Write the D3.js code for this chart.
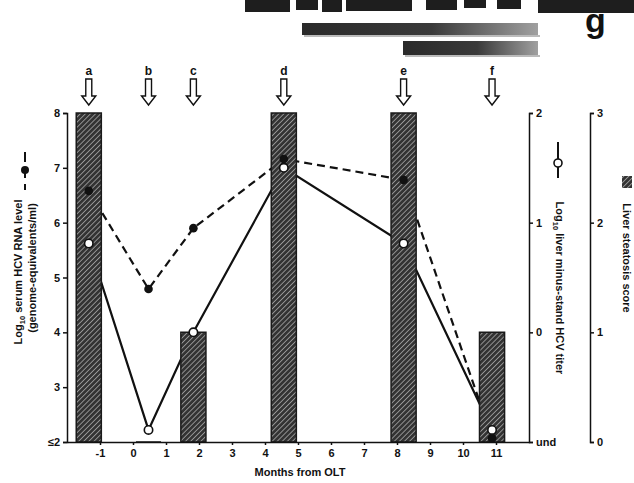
<!DOCTYPE html>
<html>
  <head>
    <script src="https://d3js.org/d3.v7.min.js"></script>
    <style>
      body { margin: 0; background: #fff; }
      text { font-family: "Liberation Sans", Arial, sans-serif; font-weight: bold; fill: #111; }
    </style>
  </head>
  <body>
    <svg id="chart" width="634" height="483"></svg>
    <script>
      // biopsy samples (arrows a-f) and their values
      const samples = ["a", "b", "c", "d", "e", "f"];
      const months = [-1.34, 0.47, 1.83, 4.57, 8.2, 10.88];
      const serumRNA = [6.58, 4.79, 5.9, 7.16, 6.78, 2.07];     // log10 genome-equivalents/ml
      const liverTiter = [0.81, -0.89, 0.0, 1.5, 0.81, -0.89];  // log10 minus-strand titer (-1 = und)
      const steatosis = [3, 0, 1, 3, 3, 1];                     // steatosis score
      const monthTicks = [-1, 0, 1, 2, 3, 4, 5, 6, 7, 8, 9, 10, 11];
      const rnaTicks = [2, 3, 4, 5, 6, 7, 8];
      const titerTicks = [-1, 0, 1, 2];
      const scoreTicks = [0, 1, 2, 3];

      const svg = d3.select("#chart");

      const x = d3.scaleLinear().domain([-2, 12]).range([67, 529]);
      const yL = d3.scaleLinear().domain([2, 8]).range([442, 113]);
      const yR = d3.scaleLinear().domain([-1, 2]).range([442, 113]);
      const yS = d3.scaleLinear().domain([0, 3]).range([442, 113]);

      // hatch pattern for bars
      const defs = svg.append("defs");
      const pat = defs.append("pattern")
        .attr("id", "hatch")
        .attr("patternUnits", "userSpaceOnUse")
        .attr("width", 3.6).attr("height", 3.6)
        .attr("patternTransform", "rotate(45)");
      pat.append("rect").attr("width", 3.6).attr("height", 3.6).attr("fill", "#333");
      pat.append("line").attr("x1", 0).attr("y1", 0).attr("x2", 0).attr("y2", 3.6)
        .attr("stroke", "#ececec").attr("stroke-width", 1);

      const grad = defs.append("linearGradient").attr("id", "banner");
      grad.append("stop").attr("offset", "0%").attr("stop-color", "#2a2a2a");
      grad.append("stop").attr("offset", "55%").attr("stop-color", "#3a3a3a");
      grad.append("stop").attr("offset", "100%").attr("stop-color", "#a0a0a0");

      // cropped pieces from the panel above
      const smudge = [[245, 290, 12], [296, 318, 10], [322, 342, 12], [346, 412, 11],
                      [426, 457, 10], [464, 486, 8], [497, 521, 9], [538, 634, 13]];
      svg.append("g").selectAll("rect").data(smudge).join("rect")
        .attr("x", d => d[0]).attr("y", 0)
        .attr("width", d => d[1] - d[0]).attr("height", d => d[2])
        .attr("fill", "#1e1e1e");

      svg.append("rect").attr("x", 304).attr("y", 35).attr("width", 236).attr("height", 2).attr("fill", "#bbb");
      svg.append("rect").attr("x", 302).attr("y", 23).attr("width", 236).attr("height", 12).attr("fill", "url(#banner)");
      svg.append("rect").attr("x", 405).attr("y", 55).attr("width", 135).attr("height", 2).attr("fill", "#bbb");
      svg.append("rect").attr("x", 403).attr("y", 41).attr("width", 135).attr("height", 14).attr("fill", "url(#banner)");

      svg.append("text").attr("x", 585).attr("y", 32)
        .style("font-size", "34px").text("g");

      // lines (drawn under the bars)
      const lineRNA = d3.line().x((d, i) => x(months[i])).y(d => yL(d));
      const lineTiter = d3.line().x((d, i) => x(months[i])).y(d => yR(d));

      svg.append("path").datum(serumRNA)
        .attr("d", lineRNA).attr("fill", "none")
        .attr("stroke", "#111").attr("stroke-width", 2.2)
        .attr("stroke-dasharray", "8,5");
      svg.append("path").datum(liverTiter)
        .attr("d", lineTiter).attr("fill", "none")
        .attr("stroke", "#111").attr("stroke-width", 2.2);

      // steatosis bars
      const halfW = 0.38;
      svg.append("g").selectAll("path").data(steatosis).join("path")
        .attr("d", (d, i) => {
          const x0 = x(months[i] - halfW), x1 = x(months[i] + halfW);
          return `M${x0},${yS(0)}H${x1}V${yS(d)}H${x0}Z`;
        })
        .attr("fill", "url(#hatch)")
        .attr("stroke", "#1a1a1a").attr("stroke-width", 1.5);

      // points
      svg.append("g").selectAll("circle").data(serumRNA).join("circle")
        .attr("cx", (d, i) => x(months[i])).attr("cy", d => yL(d))
        .attr("r", 4.3).attr("fill", "#111");
      svg.append("g").selectAll("circle").data(liverTiter).join("circle")
        .attr("cx", (d, i) => x(months[i])).attr("cy", d => yR(d))
        .attr("r", 4.2).attr("fill", "#fff")
        .attr("stroke", "#111").attr("stroke-width", 1.6);

      // axes
      function styleAxis(g) {
        g.selectAll("path, line").attr("stroke", "#111").attr("stroke-width", 1.5);
        g.selectAll("text").style("font-size", "11px").style("font-family", "Liberation Sans, Arial, sans-serif")
          .style("font-weight", "bold").attr("fill", "#111");
      }

      svg.append("g").attr("transform", `translate(0,${yL(2)})`)
        .call(d3.axisBottom(x).tickValues(monthTicks).tickSize(3).tickSizeOuter(0).tickPadding(4)
          .tickFormat(d => String(d)))
        .call(styleAxis);

      svg.append("g").attr("transform", `translate(${x(-2)},0)`)
        .call(d3.axisLeft(yL).tickValues(rnaTicks).tickSize(4).tickSizeOuter(4).tickPadding(3)
          .tickFormat(d => d === 2 ? "≤2" : String(d)))
        .call(styleAxis);

      svg.append("g").attr("transform", `translate(${x(12)},0)`)
        .call(d3.axisRight(yR).tickValues(titerTicks).tickSize(4).tickSizeOuter(4).tickPadding(3)
          .tickFormat(d => d === -1 ? "und" : String(d)))
        .call(styleAxis);

      svg.append("g").attr("transform", "translate(590,0)")
        .call(d3.axisRight(yS).tickValues(scoreTicks).tickSize(4).tickSizeOuter(4).tickPadding(3)
          .tickFormat(d => String(d)))
        .call(styleAxis);

      // sample arrows
      const arrows = svg.append("g").selectAll("g").data(samples).join("g")
        .attr("transform", (d, i) => `translate(${x(months[i])},0)`);
      arrows.append("text").attr("y", 75).attr("text-anchor", "middle")
        .style("font-size", "12px").text(d => d);
      arrows.append("path")
        .attr("d", "M-3,79V96H-7L0,105L7,96H3V79Z")
        .attr("fill", "#fff").attr("stroke", "#111").attr("stroke-width", 1.4);

      // axis titles
      svg.append("text").attr("x", 300).attr("y", 476).attr("text-anchor", "middle")
        .style("font-size", "11px").text("Months from OLT");

      const lt1 = svg.append("text").attr("transform", "translate(22,272) rotate(-90)")
        .attr("text-anchor", "middle").style("font-size", "11px");
      lt1.append("tspan").text("Log");
      lt1.append("tspan").attr("dy", 3).style("font-size", "7.5px").text("10");
      lt1.append("tspan").attr("dy", -3).text(" serum HCV RNA level");
      svg.append("text").attr("transform", "translate(36,268) rotate(-90)")
        .attr("text-anchor", "middle").style("font-size", "11px")
        .text("(genome-equivalents/ml)");

      svg.append("line").attr("x1", 25).attr("x2", 25).attr("y1", 152).attr("y2", 190)
        .attr("stroke", "#111").attr("stroke-width", 2).attr("stroke-dasharray", "10,6");
      svg.append("circle").attr("cx", 25).attr("cy", 170).attr("r", 4).attr("fill", "#111");

      svg.append("line").attr("x1", 558).attr("x2", 558).attr("y1", 142).attr("y2", 178)
        .attr("stroke", "#111").attr("stroke-width", 2);
      svg.append("circle").attr("cx", 558).attr("cy", 163).attr("r", 4)
        .attr("fill", "#fff").attr("stroke", "#111").attr("stroke-width", 1.6);

      const rt1 = svg.append("text").attr("transform", "translate(556,288) rotate(90)")
        .attr("text-anchor", "middle").style("font-size", "11px");
      rt1.append("tspan").text("Log");
      rt1.append("tspan").attr("dy", 3).style("font-size", "7.5px").text("10");
      rt1.append("tspan").attr("dy", -3).text(" liver minus-stand HCV titer");

      svg.append("rect").attr("x", 622).attr("y", 176).attr("width", 10).attr("height", 12)
        .attr("fill", "url(#hatch)");
      svg.append("text").attr("transform", "translate(623,258) rotate(90)")
        .attr("text-anchor", "middle").style("font-size", "11px")
        .text("Liver steatosis score");
    </script>
  </body>
</html>
